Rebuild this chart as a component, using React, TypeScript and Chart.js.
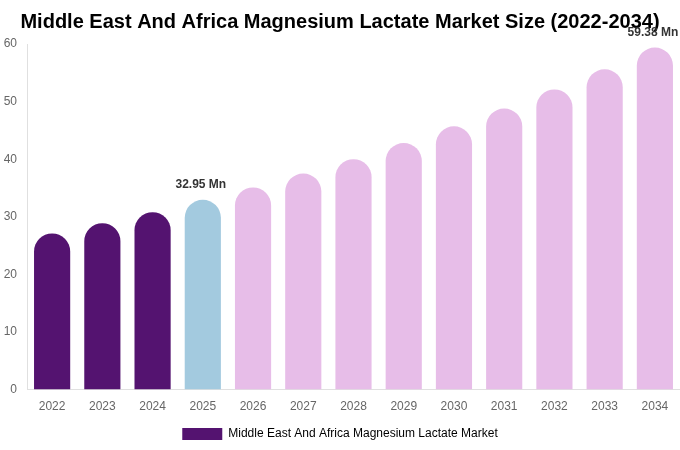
import React, { useEffect, useRef } from "react";
import { Chart, registerables } from "chart.js";

Chart.register(...registerables);

// data
const years = ["2022", "2023", "2024", "2025", "2026", "2027", "2028", "2029", "2030", "2031", "2032", "2033", "2034"];
const marketSize = [27.1, 28.9, 30.8, 32.95, 35.1, 37.5, 40.0, 42.8, 45.7, 48.8, 52.1, 55.6, 59.38];
const barColors = [
  "#541370", "#541370", "#541370",
  "#a3cadf",
  "#e7bde8", "#e7bde8", "#e7bde8", "#e7bde8", "#e7bde8",
  "#e7bde8", "#e7bde8", "#e7bde8", "#e7bde8",
];
const labelledIndexes = [3, 12];
const seriesName = "Middle East And Africa Magnesium Lactate Market";
const chartTitle = "Middle East And Africa Magnesium Lactate Market Size (2022-2034)";

// draws "xx.xx Mn" above selected bars
const valueLabels = {
  id: "valueLabels",
  afterDatasetsDraw(chart: any) {
    const { ctx } = chart;
    const meta = chart.getDatasetMeta(0);
    ctx.save();
    ctx.font = "bold 12px 'Liberation Sans', Arial, sans-serif";
    ctx.fillStyle = "#333333";
    ctx.textAlign = "center";
    ctx.textBaseline = "bottom";
    labelledIndexes.forEach((i) => {
      const bar = meta.data[i];
      ctx.fillText(marketSize[i].toFixed(2) + " Mn", bar.x - 2, bar.y - 9);
    });
    ctx.restore();
  },
};

const App: React.FC = () => {
  const chartRef = useRef<HTMLCanvasElement | null>(null);

  useEffect(() => {
    document.body.style.margin = "0";
    if (!chartRef.current) return;

    const chart = new Chart(chartRef.current, {
      type: "bar",
      data: {
        labels: years,
        datasets: [
          {
            label: seriesName,
            data: marketSize,
            backgroundColor: barColors,
            borderColor: barColors,
            borderWidth: 0,
            borderRadius: { topLeft: 18, topRight: 18, bottomLeft: 0, bottomRight: 0 },
            borderSkipped: false,
            categoryPercentage: 0.8,
            barPercentage: 0.9,
          },
        ],
      },
      options: {
        animation: false,
        responsive: true,
        maintainAspectRatio: false,
        layout: { padding: 0 },
        font: { family: "'Liberation Sans', Arial, sans-serif" },
        plugins: {
          title: {
            display: true,
            text: chartTitle,
            color: "#000000",
            font: { size: 20, weight: "bold", family: "'Liberation Sans', Arial, sans-serif" },
            padding: { top: 10, bottom: 10 },
          },
          legend: {
            position: "bottom",
            labels: {
              boxWidth: 40,
              boxHeight: 12,
              color: "#666666",
              font: { size: 12, family: "'Liberation Sans', Arial, sans-serif" },
              generateLabels: () => [
                {
                  text: seriesName,
                  fillStyle: "#541370",
                  strokeStyle: "#541370",
                  lineWidth: 0,
                  hidden: false,
                  datasetIndex: 0,
                },
              ],
            },
          },
          tooltip: { enabled: false },
        },
        scales: {
          x: {
            grid: { display: false, drawTicks: false },
            border: { display: true, color: "#e0e0e0" },
            ticks: { color: "#666666", font: { size: 12 }, padding: 10 },
            afterFit: (scale: any) => {
              scale.height = scale.height - 6;
            },
          },
          y: {
            min: 0,
            max: 60,
            grid: { display: false, drawTicks: false },
            border: { display: true, color: "#e0e0e0" },
            ticks: { stepSize: 10, color: "#666666", font: { size: 12 }, padding: 10 },
            afterFit: (scale: any) => {
              scale.width = 27;
            },
          },
        },
      },
      plugins: [valueLabels],
    });

    return () => {
      chart.destroy();
    };
  }, []);

  return (
    <div style={{ width: 680, height: 450, position: "relative", background: "#ffffff" }}>
      <canvas ref={chartRef}></canvas>
    </div>
  );
};

export default App;
